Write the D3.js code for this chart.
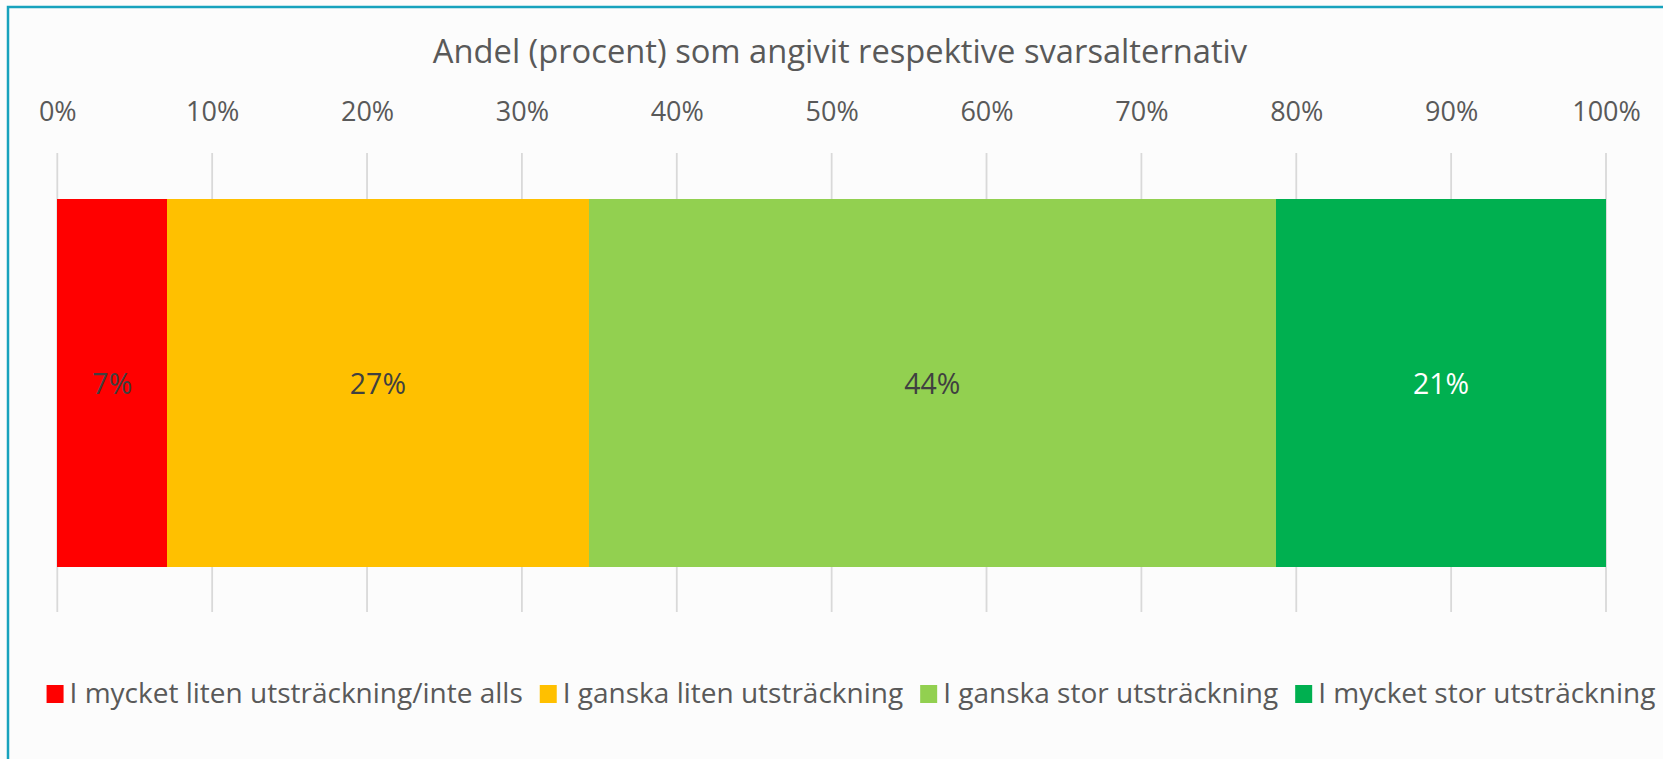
<!DOCTYPE html>
<html>
<head>
<meta charset="utf-8">
<script src="https://cdn.jsdelivr.net/npm/d3@7"></script>
<style>
  html, body { margin: 0; padding: 0; background: #fcfcfc; overflow: hidden; }
  text { font-family: "Open Sans", sans-serif; }
</style>
</head>
<body>
<div id="chart"></div>
<script>
// Data
const categories = [
  'I mycket liten utsträckning/inte alls',
  'I ganska liten utsträckning',
  'I ganska stor utsträckning',
  'I mycket stor utsträckning'
]
const values = [7.1, 27.2, 44.4, 21.3]
const colors = ['#ff0000', '#ffc000', '#92d050', '#00b050']
const labelColors = ['#404040', '#404040', '#404040', '#ffffff']
const tickValues = [0, 10, 20, 30, 40, 50, 60, 70, 80, 90, 100]
const title = 'Andel (procent) som angivit respektive svarsalternativ'

function draw() {
  // Dimensions
  let dimensions = {
    width: 1663,
    height: 759,
    left: 57.3,
    right: 1606,
    barTop: 199,
    barBottom: 567,
    gridTop: 153,
    gridBottom: 612,
  }

  const svg = d3.select('#chart')
    .append('svg')
    .attr('width', dimensions.width)
    .attr('height', dimensions.height)

  svg.append('rect')
    .attr('x', 0).attr('y', 0)
    .attr('width', dimensions.width).attr('height', dimensions.height)
    .attr('fill', '#fcfcfc')

  // frame, runs off the right and bottom edges
  svg.append('rect')
    .attr('x', 8).attr('y', 7)
    .attr('width', dimensions.width + 20).attr('height', dimensions.height + 20)
    .attr('fill', 'none')
    .attr('stroke', '#17a2bd')
    .attr('stroke-width', 2.5)

  // Stack
  const rows = [Object.fromEntries(categories.map((c, i) => [c, values[i]]))]
  const stacked = d3.stack().keys(categories)(rows)

  // Scales
  const xScale = d3.scaleLinear()
    .domain([0, 100])
    .range([dimensions.left, dimensions.right])

  const colorScale = d3.scaleOrdinal()
    .domain(categories)
    .range(colors)

  // Title
  svg.append('text')
    .attr('x', 840)
    .attr('y', 63)
    .attr('text-anchor', 'middle')
    .attr('font-size', 32.7)
    .attr('fill', '#595959')
    .text(title)

  // Grid
  svg.append('g')
    .selectAll('line')
    .data(tickValues)
    .join('line')
    .attr('x1', d => xScale(d))
    .attr('x2', d => xScale(d))
    .attr('y1', dimensions.gridTop)
    .attr('y2', dimensions.gridBottom)
    .attr('stroke', '#d9d9d9')
    .attr('stroke-width', 1.8)

  // Axis labels
  const xAxis = d3.axisTop(xScale)
    .tickValues(tickValues)
    .tickFormat(d => d + '%')
    .tickSize(0)
    .tickPadding(0)

  const axisGroup = svg.append('g')
    .attr('transform', 'translate(0, 121)')
    .call(xAxis)
  axisGroup.select('.domain').remove()
  axisGroup.selectAll('text')
    .attr('font-family', '"Open Sans", sans-serif')
    .attr('font-size', 27)
    .attr('fill', '#595959')
    .attr('dy', 0)

  // Bars
  const segments = svg.append('g')
    .selectAll('g')
    .data(stacked)
    .join('g')

  segments.append('rect')
    .attr('x', d => xScale(d[0][0]))
    .attr('y', dimensions.barTop)
    .attr('width', d => xScale(d[0][1]) - xScale(d[0][0]))
    .attr('height', dimensions.barBottom - dimensions.barTop)
    .attr('fill', d => colorScale(d.key))
    .attr('shape-rendering', 'crispEdges')

  segments.append('text')
    .attr('x', d => (xScale(d[0][0]) + xScale(d[0][1])) / 2)
    .attr('y', 394)
    .attr('text-anchor', 'middle')
    .attr('font-size', 28.5)
    .attr('fill', (d, i) => labelColors[i])
    .text(d => Math.round(d[0][1] - d[0][0]) + '%')

  // Legend
  const legend = svg.append('g')
  const items = legend.selectAll('g')
    .data(categories)
    .join('g')

  items.append('rect')
    .attr('width', 17)
    .attr('height', 18)
    .attr('y', 685)
    .attr('fill', d => colorScale(d))

  items.append('text')
    .attr('x', 23)
    .attr('y', 703)
    .attr('font-size', 28)
    .attr('fill', '#595959')
    .text(d => d)

  let offset = 0
  const widths = []
  items.each(function () {
    const w = 23 + d3.select(this).select('text').node().getComputedTextLength()
    widths.push(w)
  })
  const total = d3.sum(widths) + 17 * (widths.length - 1)
  offset = 851 - total / 2
  items.attr('transform', (d, i) => {
    const x = offset
    offset += widths[i] + 17
    return `translate(${x}, 0)`
  })
}

draw()
</script>
</body>
</html>
